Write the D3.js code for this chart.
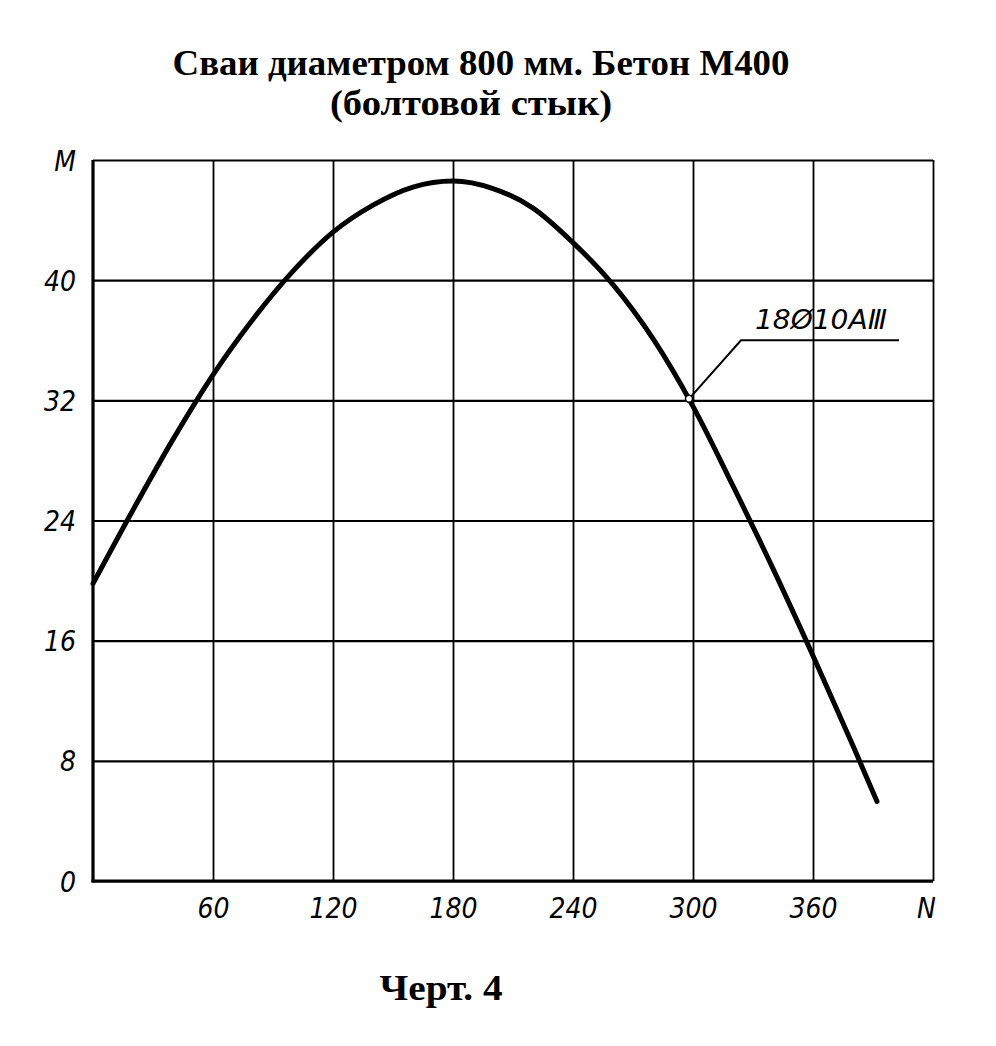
<!DOCTYPE html>
<html>
<head>
<meta charset="utf-8">
<script src="https://cdn.jsdelivr.net/npm/d3@7"></script>
<style>
  html, body { margin: 0; padding: 0; background: #fff; }
  svg { display: block; }
  .tick text { font-family: "DejaVu Sans Condensed", "DejaVu Sans", sans-serif; font-style: italic; font-stretch: condensed; }
</style>
</head>
<body>
<svg id="chart" width="996" height="1046"></svg>
<script>
// ---- data ----
const titleLine1 = "Сваи диаметром 800 мм. Бетон М400";
const titleLine2 = "(болтовой стык)";
const captionText = "Черт. 4";
const seriesLabel = "18Ø10AⅢ";

const nValues = [0, 20, 40, 60, 80, 100, 120, 140, 160, 180, 200, 220, 240, 260, 280, 300, 320, 340, 360, 380, 392];
const mValues = [19.8, 24.7, 29.4, 33.7, 37.4, 40.6, 43.2, 45.0, 46.2, 46.6, 46.1, 44.8, 42.5, 39.7, 36.1, 31.6, 26.3, 20.8, 15.0, 9.0, 5.3];

const xTicks = [60, 120, 180, 240, 300, 360, 420];
const xTickLabels = ["60", "120", "180", "240", "300", "360", "N"];
const yTicks = [0, 8, 16, 24, 32, 40, 48];
const yTickLabels = ["0", "8", "16", "24", "32", "40", "M"];

// annotation anchor (data units): leader from curve point to label shelf
const leaderFrom = [298, 32.1];
const leaderElbow = [324, 36.0];
const shelfEnd = [403, 36.0];

// ---- drawing ----
const svg = d3.select("#chart");
const x = d3.scaleLinear().domain([0, 420]).range([93, 933]);
const y = d3.scaleLinear().domain([0, 48]).range([881, 160]);

// title
svg.append("text")
  .attr("x", 481).attr("y", 75)
  .attr("text-anchor", "middle")
  .attr("font-family", "'Liberation Serif', serif")
  .attr("font-weight", "bold")
  .attr("font-size", 36)
  .attr("textLength", 617).attr("lengthAdjust", "spacingAndGlyphs")
  .text(titleLine1);
svg.append("text")
  .attr("x", 471).attr("y", 115)
  .attr("text-anchor", "middle")
  .attr("font-family", "'Liberation Serif', serif")
  .attr("font-weight", "bold")
  .attr("font-size", 36)
  .attr("textLength", 282).attr("lengthAdjust", "spacingAndGlyphs")
  .text(titleLine2);

// grid: horizontal lines
const gY = svg.append("g")
  .attr("transform", `translate(${x(0)},0)`)
  .call(d3.axisLeft(y).tickValues(yTicks).tickSize(-(x(420) - x(0))).tickPadding(17)
    .tickFormat((d, i) => yTickLabels[i]));
gY.select(".domain").remove();
gY.selectAll(".tick line").attr("stroke", "#000").attr("stroke-width", 2.2);
gY.selectAll(".tick text").attr("font-size", 28).attr("fill", "#000").attr("dy", "0.36em");

// grid: vertical lines
const gX = svg.append("g")
  .attr("transform", `translate(0,${y(0)})`)
  .call(d3.axisBottom(x).tickValues(xTicks).tickSize(-(y(0) - y(48))).tickPadding(15)
    .tickFormat((d, i) => xTickLabels[i]));
gX.select(".domain").remove();
gX.selectAll(".tick line").attr("stroke", "#000").attr("stroke-width", 1.8);
gX.selectAll(".tick text").attr("font-size", 28).attr("fill", "#000").attr("dy", "0.8em");
gX.selectAll(".tick text").filter((d) => d === 420).attr("dx", "-0.25em");

// axes (left and bottom heavier)
svg.append("line")
  .attr("x1", x(0)).attr("x2", x(0)).attr("y1", y(48)).attr("y2", y(0) + 1.5)
  .attr("stroke", "#000").attr("stroke-width", 3.2);
svg.append("line")
  .attr("x1", x(0) - 1.5).attr("x2", x(420)).attr("y1", y(0)).attr("y2", y(0))
  .attr("stroke", "#000").attr("stroke-width", 3.2);

// curve
const pts = nValues.map((n, i) => [n, mValues[i]]);
const line = d3.line().x(d => x(d[0])).y(d => y(d[1])).curve(d3.curveMonotoneX);
svg.append("path")
  .attr("d", line(pts))
  .attr("fill", "none")
  .attr("stroke", "#000")
  .attr("stroke-width", 5)
  .attr("stroke-linecap", "round");

// annotation
svg.append("polyline")
  .attr("points", [leaderFrom, leaderElbow, shelfEnd].map(p => `${x(p[0])},${y(p[1])}`).join(" "))
  .attr("fill", "none").attr("stroke", "#000").attr("stroke-width", 2);
svg.append("circle")
  .attr("cx", x(leaderFrom[0])).attr("cy", y(leaderFrom[1])).attr("r", 3.5)
  .attr("fill", "#fff").attr("stroke", "#000").attr("stroke-width", 1.5);
svg.append("text")
  .attr("x", x(331)).attr("y", y(36.0) - 11)
  .attr("font-family", "'DejaVu Sans Condensed', 'DejaVu Sans', sans-serif")
  .attr("font-style", "italic")
  .attr("font-size", 27)
  .attr("textLength", 132).attr("lengthAdjust", "spacingAndGlyphs")
  .text(seriesLabel);

// caption
svg.append("text")
  .attr("x", 441).attr("y", 1000)
  .attr("text-anchor", "middle")
  .attr("font-family", "'Liberation Serif', serif")
  .attr("font-weight", "bold")
  .attr("font-size", 36)
  .attr("textLength", 123).attr("lengthAdjust", "spacingAndGlyphs")
  .text(captionText);
</script>
</body>
</html>
